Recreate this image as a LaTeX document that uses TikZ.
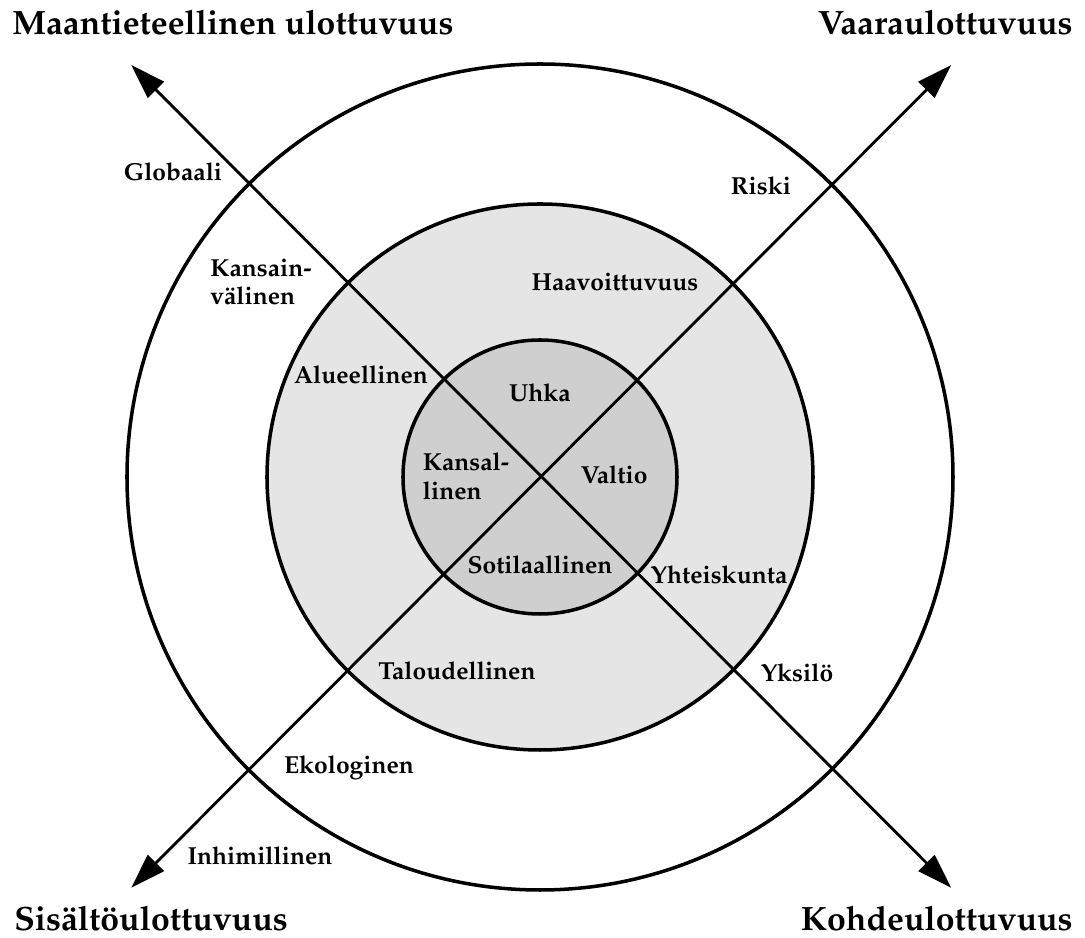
\documentclass[tikz,border=0pt]{standalone}
\usepackage[T1]{fontenc}
\usepackage{mathpazo}
\usepackage{tikz}
\usetikzlibrary{arrows.meta,positioning}

\begin{document}
\begin{tikzpicture}[
    ring/.style={circle, draw, line width=2.5pt, fill=#1, inner sep=0pt},
    lbl/.style={font=\fontsize{17.5}{20.5}\selectfont\bfseries, align=left, inner sep=0pt},
    dimtitle/.style={font=\fontsize{24}{28}\selectfont\bfseries, inner sep=0pt},
    axis/.style={line width=2pt, {Triangle[length=25pt,width=16pt]}-{Triangle[length=25pt,width=16pt]}},
    >=Stealth
]
    \useasboundingbox (-13.5,-11.525) rectangle (13.625,11.925);

    % rings
    \node[ring=white, minimum size=20.65cm] (outer) at (0,0) {};
    \node[ring=black!10, minimum size=13.65cm] (middle) at (0,0) {};
    \node[ring=black!19, minimum size=6.85cm] (inner) at (0,0) {};

    % axes
    \coordinate (nw) at (-10.22,10.3);
    \coordinate (ne) at (10.28,10.3);
    \coordinate (sw) at (-10.22,-10.27);
    \coordinate (se) at (10.28,-10.27);
    \draw[axis] (nw) -- (se);
    \draw[axis] (sw) -- (ne);

    % dimension titles
    \node[dimtitle, anchor=base west] (geo) at (-13.2,11.05) {Maantieteellinen ulottuvuus};
    \node[dimtitle, anchor=base east] (vaara) at (13.325,11.05) {Vaaraulottuvuus};
    \node[dimtitle, anchor=base west] (sisalto) at (-13.15,-11.35) {Sisältöulottuvuus};
    \node[dimtitle, anchor=base east] (kohde) at (13.325,-11.35) {Kohdeulottuvuus};

    % levels
    \node[lbl] (glob) at (-9.175,7.625) {Globaali};
    \node[lbl] (kv) at (-6.975,4.875) {Kansain-\\välinen};
    \node[lbl] (alue) at (-4.475,2.55) {Alueellinen};
    \node[lbl] (kans) at (-1.85,0.025) {Kansal-\\linen};

    \node[lbl] (riski) at (5.525,7.275) {Riski};
    \node[lbl] (haav) at (1.875,4.875) {Haavoittuvuus};
    \node[lbl] (uhka) at (0,2.1) {Uhka};

    \node[lbl] (valtio) at (1.85,0.05) {Valtio};
    \node[lbl] (yht) at (4.475,-2.45) {Yhteiskunta};
    \node[lbl] (yks) at (6.425,-4.9) {Yksilö};

    \node[lbl] (sot) at (0,-2.2) {Sotilaallinen};
    \node[lbl] (tal) at (-2.075,-4.85) {Taloudellinen};
    \node[lbl] (eko) at (-4.775,-7.275) {Ekologinen};
    \node[lbl] (inh) at (-7.0,-9.475) {Inhimillinen};
\end{tikzpicture}
\end{document}
